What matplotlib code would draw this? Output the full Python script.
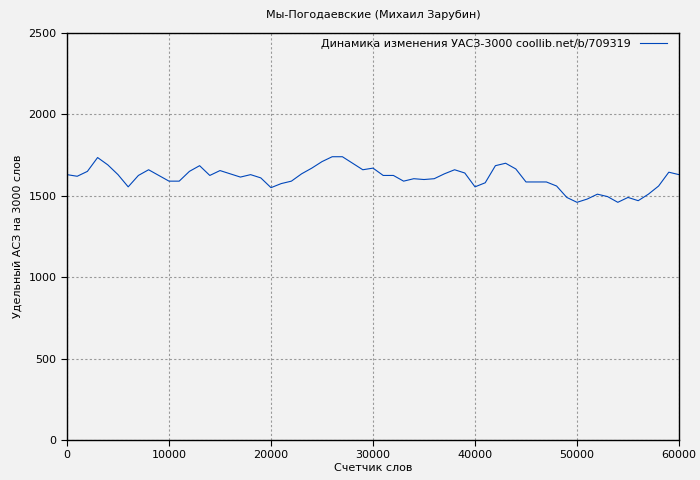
import matplotlib
matplotlib.use('Agg')
import matplotlib.pyplot as plt

x = list(range(0, 60001, 1000))
y = [1630,1620,1650,1735,1690,1630,1555,1625,1660,1625,1590,1590,1650,1685,1625,1655,1635,1615,1630,1610,
     1550,1575,1590,1635,1670,1710,1740,1740,1700,1660,1670,1625,1625,1590,1605,1600,1605,1635,1660,1640,
     1555,1580,1685,1700,1665,1585,1585,1585,1560,1490,1460,1480,1510,1495,1460,1490,1470,1510,1560,1645,1630]

fig = plt.figure(figsize=(7, 4.8), dpi=100, facecolor='#f2f2f2')
ax = fig.add_axes([67/700, 40/480, 612/700, 407/480])
ax.set_facecolor('#f2f2f2')
ax.plot(x, y, color='#0047bb', lw=0.8, label='Динамика изменения УАСЗ-3000 coollib.net/b/709319')
ax.set_xlim(0, 60000)
ax.set_ylim(0, 2500)
ax.set_xticks(range(0, 60001, 10000))
ax.set_yticks(range(0, 2501, 500))
ax.grid(True, color='#999999', ls=(0, (2, 2)), lw=0.8)
ax.tick_params(labelsize=8, direction='out', length=4)
ax.set_xlabel('Счетчик слов', fontsize=8, labelpad=2)
ax.set_ylabel('Удельный АСЗ на 3000 слов', fontsize=8)
ax.set_title('Мы-Погодаевские (Михаил Зарубин)', fontsize=8, pad=11)
ax.legend(loc='upper right', fontsize=8, frameon=False, markerfirst=False, handlelength=2.5,
          borderaxespad=0.1, bbox_to_anchor=(0.99, 1.0))
for s in ax.spines.values():
    s.set_linewidth(1)
fig.savefig('out.png', facecolor=fig.get_facecolor())
